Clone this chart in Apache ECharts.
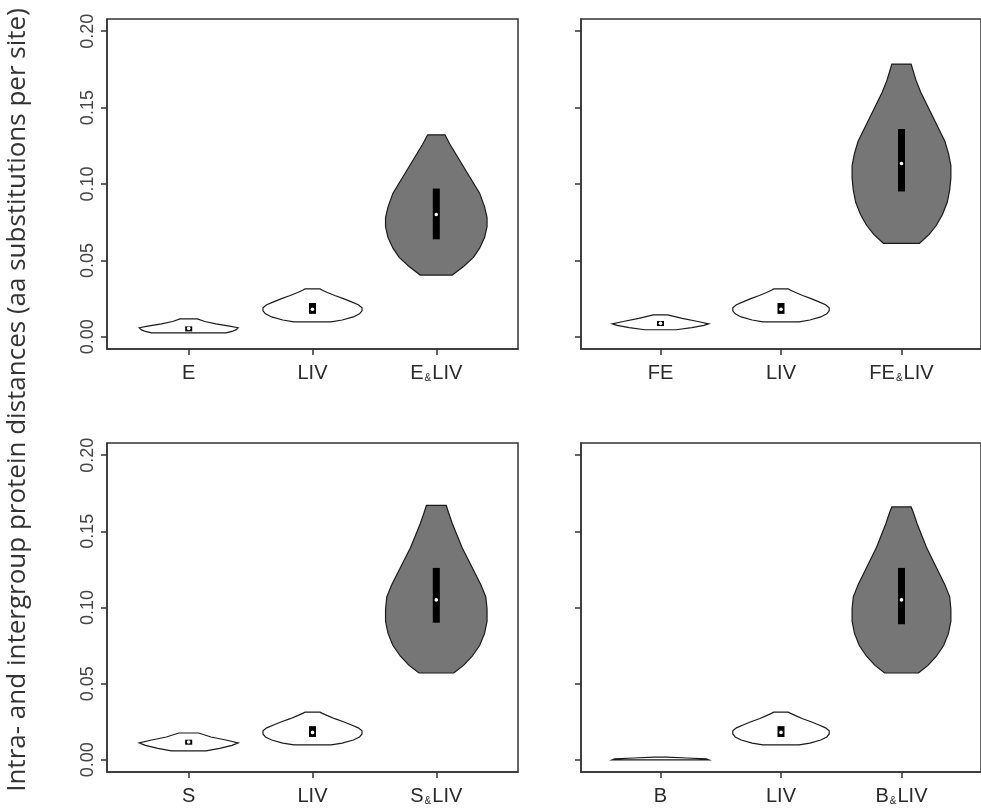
<!DOCTYPE html>
<html>
<head>
<meta charset="utf-8">
<script src="https://cdn.jsdelivr.net/npm/echarts@6/dist/echarts.min.js"></script>
<style>
html, body { margin: 0; padding: 0; background: #fff; }
#chart { width: 981px; height: 809px; }
</style>
</head>
<body>
<div id="chart"></div>
<script>
// group names of each panel
var namesTL = ['E', 'LIV', 'E&LIV']
var namesTR = ['FE', 'LIV', 'FE&LIV']
var namesBL = ['S', 'LIV', 'S&LIV']
var namesBR = ['B', 'LIV', 'B&LIV']
var yTicks = [0, 0.05, 0.1, 0.15, 0.2]

// violin outlines: [distance, half width]
var vioE = [[0.0026, 0.30], [0.0035, 0.35], [0.0045, 0.38], [0.0059, 0.40], [0.007, 0.33], [0.0085, 0.22], [0.010, 0.13], [0.0117, 0.07]]
var vioLIV = [[0.0098, 0.15], [0.011, 0.24], [0.013, 0.33], [0.015, 0.38], [0.017, 0.40], [0.019, 0.40], [0.021, 0.37], [0.023, 0.31], [0.025, 0.25], [0.027, 0.18], [0.029, 0.12], [0.0305, 0.08], [0.0313, 0.06]]
var vioELIV = [[0.0404, 0.13], [0.046, 0.22], [0.052, 0.30], [0.058, 0.35], [0.065, 0.39], [0.072, 0.41], [0.078, 0.41], [0.085, 0.39], [0.094, 0.35], [0.102, 0.29], [0.110, 0.23], [0.118, 0.17], [0.126, 0.11], [0.1322, 0.07]]
var vioFE = [[0.0046, 0.13], [0.006, 0.26], [0.0075, 0.36], [0.0085, 0.40], [0.010, 0.31], [0.012, 0.18], [0.0143, 0.06]]
var vioFELIV = [[0.0612, 0.15], [0.067, 0.23], [0.073, 0.29], [0.080, 0.34], [0.088, 0.38], [0.096, 0.40], [0.104, 0.41], [0.112, 0.41], [0.120, 0.39], [0.128, 0.36], [0.136, 0.31], [0.144, 0.26], [0.152, 0.21], [0.160, 0.16], [0.168, 0.12], [0.1785, 0.08]]
var vioS = [[0.0059, 0.14], [0.0075, 0.25], [0.0095, 0.35], [0.0111, 0.40], [0.013, 0.30], [0.015, 0.18], [0.0176, 0.08]]
var vioSLIV = [[0.057, 0.14], [0.062, 0.22], [0.068, 0.29], [0.075, 0.35], [0.083, 0.39], [0.091, 0.41], [0.099, 0.41], [0.107, 0.40], [0.115, 0.36], [0.123, 0.31], [0.131, 0.26], [0.139, 0.21], [0.147, 0.17], [0.155, 0.13], [0.162, 0.10], [0.167, 0.08]]
var vioB = [[0, 0.40], [0.0006, 0.38], [0.0012, 0.22], [0.0018, 0.05]]
var vioBLIV = [[0.057, 0.14], [0.062, 0.22], [0.068, 0.29], [0.075, 0.35], [0.083, 0.39], [0.091, 0.41], [0.099, 0.41], [0.107, 0.40], [0.115, 0.36], [0.123, 0.31], [0.131, 0.26], [0.139, 0.21], [0.147, 0.17], [0.155, 0.13], [0.162, 0.10], [0.166, 0.08]]

// boxes: [q1, median, q3]
var boxE = [0.0045, 0.0055, 0.0068]
var boxLIV = [0.015, 0.018, 0.0221]
var boxELIV = [0.0638, 0.080, 0.097]
var boxFE = [0.0075, 0.0088, 0.0103]
var boxFELIV = [0.0951, 0.1134, 0.136]
var boxS = [0.0105, 0.0117, 0.0132]
var boxSLIV = [0.090, 0.105, 0.126]
var boxB = null
var boxBLIV = [0.089, 0.105, 0.126]

var fills = ['#ffffff', '#ffffff', '#767676']

var panels = [
  { names: namesTL, vio: [vioE, vioLIV, vioELIV], box: [boxE, boxLIV, boxELIV], left: 107, top: 19, height: 330, yLabels: true },
  { names: namesTR, vio: [vioFE, vioLIV, vioFELIV], box: [boxFE, boxLIV, boxFELIV], left: 581, top: 19, height: 330, yLabels: false },
  { names: namesBL, vio: [vioS, vioLIV, vioSLIV], box: [boxS, boxLIV, boxSLIV], left: 107, top: 443, height: 329, yLabels: true },
  { names: namesBR, vio: [vioB, vioLIV, vioBLIV], box: [boxB, boxLIV, boxBLIV], left: 581, top: 443, height: 329, yLabels: false },
]

var chart = echarts.init(document.getElementById('chart'))

var axisColor = '#333'
var grids = []
var xAxes = []
var yAxes = []
var series = []

panels.forEach(function (p, k) {
  grids.push({
    left: p.left,
    top: p.top,
    width: 411,
    height: p.height,
    show: true,
    borderColor: axisColor,
    borderWidth: 1.5,
    backgroundColor: 'transparent',
  })
  xAxes.push({
    type: 'value',
    gridIndex: k,
    min: 0.34,
    max: 3.66,
    splitLine: { show: false },
    axisLine: { show: true, onZero: false, lineStyle: { color: axisColor, width: 1.5 } },
    axisTick: { show: true, customValues: [1, 2, 3], length: 6, lineStyle: { color: axisColor, width: 1.5 } },
    axisLabel: {
      show: true,
      customValues: [1, 2, 3],
      margin: 14,
      color: '#2a2a2a',
      fontSize: 20,
      fontFamily: 'Liberation Sans',
      formatter: function (v) {
        var n = p.names[Math.round(v) - 1]
        return n.indexOf('&') > -1 ? n.replace('&', '{amp|&}') : n
      },
      rich: {
        amp: { fontSize: 10, fontFamily: 'Liberation Sans', color: '#2a2a2a', verticalAlign: 'bottom', padding: [7, 1, 0, 1] },
      },
    },
  })
  yAxes.push({
    type: 'value',
    gridIndex: k,
    min: -0.008,
    max: 0.208,
    splitLine: { show: false },
    axisLine: { show: true, onZero: false, lineStyle: { color: axisColor, width: 1.5 } },
    axisTick: { show: true, customValues: yTicks, length: 6, lineStyle: { color: axisColor, width: 1.5 } },
    axisLabel: {
      show: p.yLabels,
      customValues: yTicks,
      rotate: 90,
      margin: 10,
      color: '#444',
      fontSize: 18,
      fontFamily: 'Liberation Sans',
      formatter: function (v) { return v.toFixed(2) },
    },
  })
  series.push({
    type: 'custom',
    xAxisIndex: k,
    yAxisIndex: k,
    data: [[1], [2], [3]],
    renderItem: function (params, api) {
      var i = params.dataIndex
      var x = api.value(0)
      var prof = p.vio[i]
      var pts = []
      prof.forEach(function (d) { pts.push(api.coord([x + d[1], d[0]])) })
      for (var j = prof.length - 1; j >= 0; j--) pts.push(api.coord([x - prof[j][1], prof[j][0]]))
      var children = [{
        type: 'polygon',
        shape: { points: pts },
        style: { fill: fills[i], stroke: '#1a1a1a', lineWidth: 1.2 },
      }]
      var b = p.box[i]
      if (b) {
        var lo = api.coord([x, b[0]])
        var md = api.coord([x, b[1]])
        var hi = api.coord([x, b[2]])
        children.push({
          type: 'rect',
          shape: { x: lo[0] - 3.5, y: hi[1], width: 7, height: Math.max(lo[1] - hi[1], 5) },
          style: { fill: '#000' },
        })
        children.push({
          type: 'circle',
          shape: { cx: md[0], cy: md[1], r: 1.8 },
          style: { fill: '#fff' },
        })
      }
      return { type: 'group', children: children }
    },
  })
})

var option = {
  animation: false,
  backgroundColor: '#fff',
  grid: grids,
  xAxis: xAxes,
  yAxis: yAxes,
  series: series,
  graphic: [{
    type: 'text',
    x: 18,
    y: 400,
    rotation: Math.PI / 2,
    style: {
      text: 'Intra- and intergroup protein distances (aa substitutions per site)',
      font: '26px "Open Sans"',
      fill: '#333',
      align: 'center',
      verticalAlign: 'middle',
    },
  }],
}
chart.setOption(option)
</script>
</body>
</html>
